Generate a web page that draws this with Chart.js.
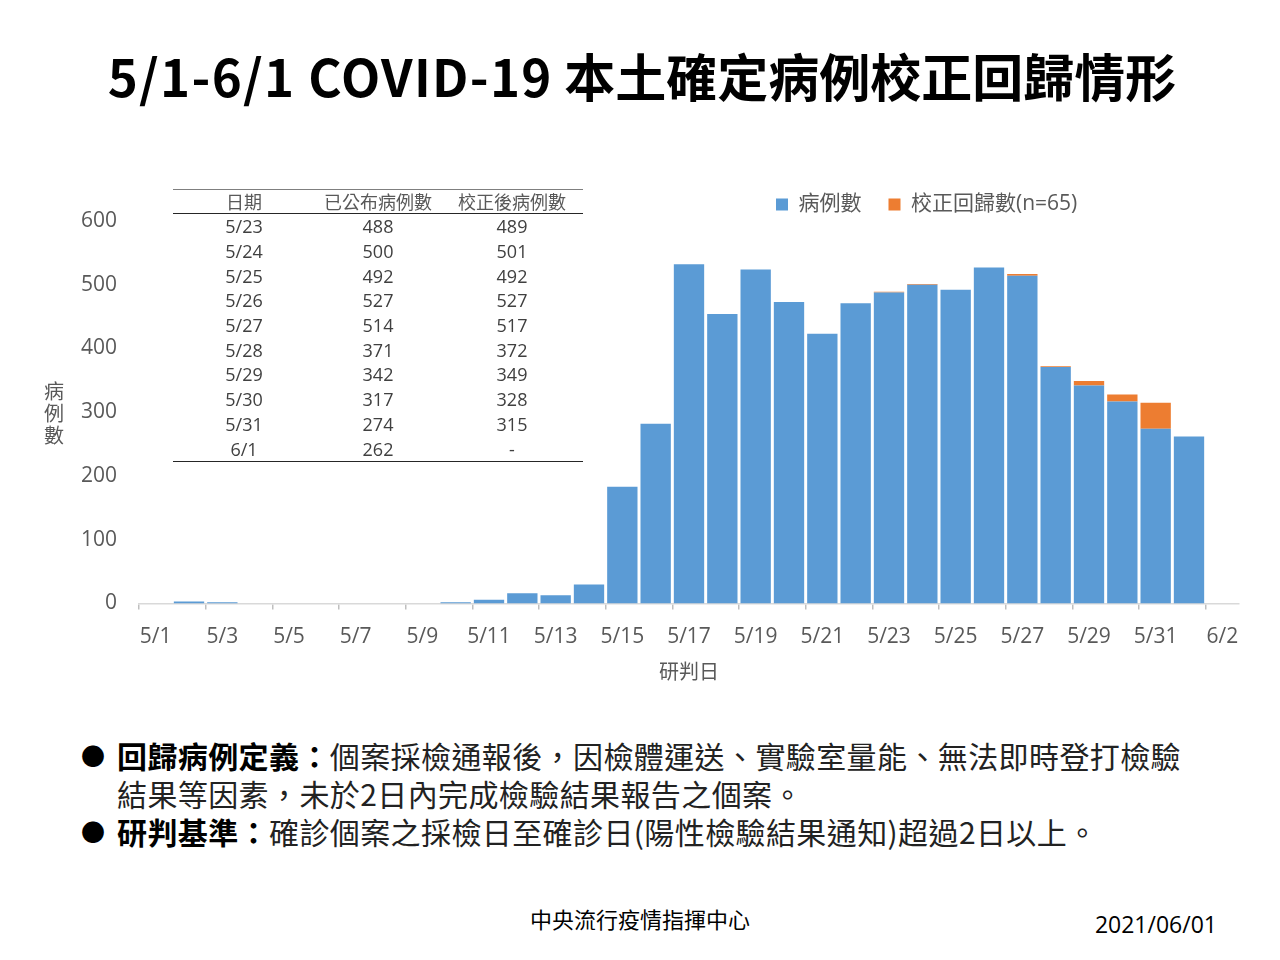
<!DOCTYPE html>
<html lang="zh-Hant">
<head>
<meta charset="utf-8">
<script src="https://cdn.jsdelivr.net/npm/chart.js@4/dist/chart.umd.min.js"></script>
<style>
  html, body { margin:0; padding:0; background:#fff; }
  body { width:1280px; height:960px; position:relative; overflow:hidden;
         font-family:'Noto Sans CJK TC','Open Sans',sans-serif; }
  #title { position:absolute; left:0; width:1284px; top:41px; text-align:center;
           font-size:51px; font-weight:700; color:#000; line-height:68px; white-space:nowrap; }
  #title .lat { letter-spacing:1.3px; }
  #chartBox { position:absolute; left:0; top:0; width:1280px; height:700px; }
  #ytitle { position:absolute; left:44px; top:380px; width:20px; font-size:20px; line-height:22px;
            color:#595959; text-align:center; }
  #tbl { position:absolute; left:173px; top:189px; width:410px; table-layout:fixed; border-collapse:collapse;
         font-family:'Open Sans','Noto Sans CJK TC',sans-serif; font-size:18px; color:#404040; }
  #tbl th { font-weight:400; color:#595959; height:23px; padding:0; border-top:1px solid #7f7f7f;
            border-bottom:1.5px solid #262626; line-height:22px; }
  #tbl td { height:24.7px; padding:0; text-align:center; line-height:24px; }
  #tbl tr:last-child td { border-bottom:1.5px solid #262626; }
  #notes { position:absolute; left:0; top:736px; width:1280px; font-size:30px; line-height:38px; color:#222;
           letter-spacing:0.4px; }
  .ln { position:relative; padding-left:117px; white-space:nowrap; }
  .bul { position:absolute; left:81px; top:0; font-size:24px; color:#000; letter-spacing:0; }
  .ln b { color:#000; font-weight:700; }
  #org { position:absolute; left:0; width:1280px; top:904px; text-align:center; font-size:22px; color:#000; line-height:28px; }
  #date { position:absolute; right:63px; top:910px; font-size:23px; color:#000; line-height:28px;
          font-family:'Open Sans','Noto Sans CJK TC',sans-serif; }
</style>
</head>
<body>
<div id="title"><span class="lat">5/1-6/1 COVID-19</span> 本土確定病例校正回歸情形</div>
<div id="chartBox"><canvas id="c" width="1280" height="700"></canvas></div>
<div id="ytitle">病<br>例<br>數</div>
<table id="tbl"></table>
<div id="notes">
  <div class="ln"><span class="bul">●</span><b>回歸病例定義：</b>個案採檢通報後，因檢體運送、實驗室量能、無法即時登打檢驗</div>
  <div class="ln">結果等因素，未於2日內完成檢驗結果報告之個案。</div>
  <div class="ln"><span class="bul">●</span><b>研判基準：</b>確診個案之採檢日至確診日(陽性檢驗結果通知)超過2日以上。</div>
</div>
<div id="org">中央流行疫情指揮中心</div>
<div id="date">2021/06/01</div>
<script>
// ---- data ----
const categories = ['5/1','5/2','5/3','5/4','5/5','5/6','5/7','5/8','5/9','5/10','5/11','5/12','5/13','5/14','5/15','5/16',
  '5/17','5/18','5/19','5/20','5/21','5/22','5/23','5/24','5/25','5/26','5/27','5/28','5/29','5/30','5/31','6/1','6/2'];
const caseCounts = [0,3,2,0,0,0,0,0,0,2,6,16,13,30,183,282,532,454,524,473,423,471,
  488,500,492,527,514,371,342,317,274,262,null];
const regressionCounts = [0,0,0,0,0,0,0,0,0,0,0,0,0,0,0,0,0,0,0,0,0,0,
  1,1,0,0,3,1,7,11,41,0,null];
const seriesNames = ['病例數','校正回歸數(n=65)'];
const yTicks = [0,100,200,300,400,500,600];
const tableHeader = ['日期','已公布病例數','校正後病例數'];
const tableDates = ['5/23','5/24','5/25','5/26','5/27','5/28','5/29','5/30','5/31','6/1'];
const tablePublished = ['488','500','492','527','514','371','342','317','274','262'];
const tableCorrected = ['489','501','492','527','517','372','349','328','315','-'];

// ---- table ----
const tbl = document.getElementById('tbl');
const colW = [142,126,142];
let html = '<tr>' + tableHeader.map((h,i)=>'<th style="width:'+colW[i]+'px">'+h+'</th>').join('') + '</tr>';
tableDates.forEach((d,i)=>{
  html += '<tr><td>'+d+'</td><td>'+tablePublished[i]+'</td><td>'+tableCorrected[i]+'</td></tr>';
});
tbl.innerHTML = html;

// ---- chart ----
const FONT = "'Open Sans','Noto Sans CJK TC',sans-serif";
const LEGEND_LEFT = 776, LEGEND_TOP = 167, AREA_TOP = 221;
const moveLegend = {
  id:'moveLegend',
  afterLayout(chart){
    const lg = chart.legend;
    if(!lg || !lg.lineWidths) return;
    const startX = lg.right - lg.lineWidths[0];   // align:'end' start position
    const dx = LEGEND_LEFT - startX; lg.left += dx; lg.right += dx;
    const dy = LEGEND_TOP - lg.top; lg.top += dy; lg.bottom += dy;
  }
};
const chart = new Chart(document.getElementById('c'), {
  type:'bar',
  data:{
    labels: categories,
    datasets:[
      { label: seriesNames[0], data: caseCounts, backgroundColor:'#5b9bd5', borderWidth:0,
        categoryPercentage:1.0, barPercentage:0.91 },
      { label: seriesNames[1], data: regressionCounts, backgroundColor:'#ed7d31', borderWidth:0,
        categoryPercentage:1.0, barPercentage:0.91 }
    ]
  },
  options:{
    responsive:false, animation:false,
    layout:{ padding:{ left:0, right:41, top:150, bottom:0 } },
    plugins:{
      legend:{
        position:'top', align:'end',
        labels:{ boxWidth:12, boxHeight:12, padding:27, color:'#595959', font:{ family:FONT, size:21 } }
      },
      tooltip:{ enabled:false }
    },
    scales:{
      x:{
        stacked:true,
        offset:true,
        grid:{ display:true, drawOnChartArea:false, offset:true, tickLength:6,
               color:(c)=> (c.index % 2 === 0 ? '#bfbfbf' : 'rgba(0,0,0,0)'), lineWidth:1.5 },
        border:{ display:true, color:'#d9d9d9', width:1.5 },
        ticks:{ autoSkip:false, maxRotation:0, minRotation:0, padding:15, color:'#595959',
                font:{ family:FONT, size:21 },
                callback:function(v,i){ return i % 2 === 0 ? this.getLabelForValue(v) : ''; } },
        title:{ display:true, text:'研判日', color:'#595959', font:{ family:FONT, size:20 },
                padding:{ top:0, bottom:15 } },
        afterFit:(s)=>{ s.height = 96.5; }
      },
      y:{
        stacked:true, min:0, max:600,
        afterBuildTicks:(s)=>{ s.ticks = yTicks.map(v=>({value:v})); },
        grid:{ display:false },
        border:{ display:false },
        ticks:{ padding:14, color:'#595959', font:{ family:FONT, size:21 } },
        afterFit:(s)=>{ s.width = 139; }
      }
    }
  },
  plugins:[moveLegend]
});
// make the plot area start exactly at AREA_TOP whatever the legend height
chart.options.layout.padding.top = AREA_TOP - chart.legend.height;
chart.update();
</script>
</body>
</html>
